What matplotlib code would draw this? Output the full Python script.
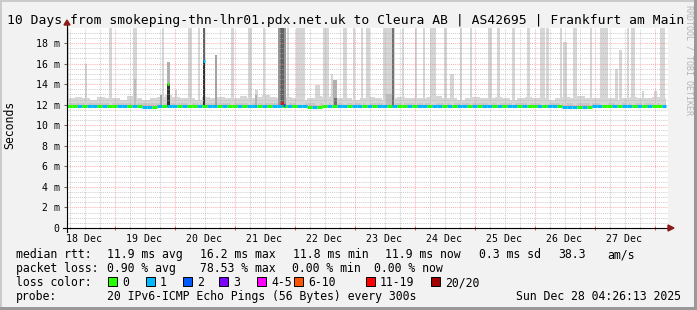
import matplotlib
matplotlib.use("Agg")
import matplotlib.pyplot as plt
import matplotlib.dates as mdates
from matplotlib.patches import Rectangle, Polygon
from datetime import datetime, timedelta
import numpy as np

plt.rcParams['font.family'] = ['DejaVu Sans Mono']

# data, rtt in ms
start = datetime(2025, 12, 18, 5, 0)
last_update = datetime(2025, 12, 28, 4, 26, 13)

# top of the normal smoke band, one value per 3 h
base_top = [12.6, 12.7, 12.6, 12.5, 12.7, 12.6, 12.6, 12.5, 12.8, 12.6,
            12.5, 12.6, 12.7, 12.9, 12.7, 12.6, 12.6, 12.5, 12.7, 12.6,
            12.7, 12.6, 12.6, 12.8, 12.6, 12.7, 12.9, 12.7, 12.6, 12.7,
            12.6, 12.5, 12.6, 12.8, 12.7, 12.8, 12.6, 12.6, 12.5, 12.6,
            12.7, 12.6, 12.5, 12.6, 12.7, 12.6, 12.6, 12.6, 12.7, 12.8,
            12.6, 12.6, 12.5, 12.6, 12.7, 12.6, 12.6, 12.7, 12.6, 12.5,
            12.6, 12.7, 12.6, 12.6, 12.5, 12.6, 12.7, 12.6, 12.8, 12.6,
            12.6, 12.7, 12.6, 12.5, 12.6, 12.7, 12.6, 12.6, 12.7, 12.6]
base_low = 11.78
inner_band = (11.8, 12.2)

# median rtt, one value per 6 h
median_rtt = [11.9, 11.9, 11.85, 11.9, 11.85, 11.8, 11.9, 11.9, 11.9, 11.85,
              11.9, 11.9, 11.9, 11.85, 11.9, 11.9, 11.8, 11.85, 11.9, 11.9,
              11.9, 11.85, 11.9, 11.9, 11.85, 11.9, 11.9, 11.9, 11.85, 11.9,
              11.9, 11.9, 11.85, 11.8, 11.8, 11.9, 11.9, 11.9, 11.85, 11.9]

# lost pings (of 20) per 2 h
median_loss = ("00101101001101011010"
               "11010010110100101101"
               "01101011010010110110"
               "10110100101101101011"
               "01011010110100101101"
               "11010110010110101001")

# outliers: time, minutes covered, highest rtt, pings that reached it
spike_time = ["12-18 05:24", "12-18 12:36", "12-18 22:12", "12-19 08:12", "12-19 18:36",
              "12-19 19:24", "12-19 21:24", "12-19 21:24", "12-20 00:36", "12-20 06:12",
              "12-20 09:48", "12-20 11:48", "12-20 11:48", "12-20 16:36", "12-20 23:24",
              "12-21 06:12", "12-21 08:36", "12-21 11:48", "12-21 19:00", "12-21 19:00",
              "12-21 21:24", "12-22 02:12", "12-22 09:00", "12-22 12:36", "12-22 15:00",
              "12-22 16:12", "12-22 16:12", "12-22 20:12", "12-22 23:48", "12-23 03:00",
              "12-23 05:24", "12-23 13:48", "12-23 15:24", "12-23 19:24", "12-24 00:36",
              "12-24 03:48", "12-24 07:24", "12-24 12:12", "12-24 15:00", "12-24 18:36",
              "12-24 22:36", "12-25 06:12", "12-25 09:24", "12-25 15:24", "12-25 21:24",
              "12-26 03:00", "12-26 05:24", "12-26 10:36", "12-26 12:12", "12-26 16:12",
              "12-26 22:36", "12-27 03:48", "12-27 08:36", "12-27 10:12", "12-27 13:24",
              "12-27 15:24", "12-27 19:24", "12-28 00:12", "12-28 03:00", "12-19 08:12",
              "12-23 13:48", "12-21 08:36"]
spike_minutes = [48, 72, 72, 96, 72,
                 48, 72, 72, 72, 120,
                 48, 72, 72, 72, 72,
                 120, 72, 48, 192, 120,
                 48, 216, 120, 144, 48,
                 96, 72, 96, 72, 72,
                 96, 288, 36, 72, 72,
                 72, 144, 72, 96, 72,
                 72, 120, 72, 72, 72,
                 120, 72, 72, 120, 96,
                 72, 192, 72, 72, 72,
                 120, 72, 72, 120, 48,
                 144, 48]
spike_top = [24.0, 16.0, 24.0, 24.0, 12.9,
             24.0, 16.1, 14.0, 13.4, 24.0,
             24.0, 24.0, 16.2, 16.8, 24.0,
             24.0, 13.4, 24.0, 24.0, 24.0,
             24.0, 24.0, 13.9, 24.0, 15.0,
             14.4, 12.6, 24.0, 24.0, 24.0,
             24.0, 24.0, 24.0, 24.0, 24.0,
             24.0, 24.0, 24.0, 15.0, 24.0,
             24.0, 24.0, 24.0, 24.0, 24.0,
             24.0, 24.0, 24.0, 18.1, 24.0,
             24.0, 24.0, 15.5, 17.3, 24.0,
             24.0, 13.3, 13.3, 24.0, 14.5,
             13.0, 12.9]
spike_pings = [1, 1, 1, 1, 5,
               1, 4, 14, 1, 1,
               1, 10, 14, 5, 1,
               1, 1, 1, 6, 10,
               1, 1, 1, 1, 1,
               4, 9, 1, 1, 1,
               1, 1, 9, 1, 1,
               1, 1, 1, 1, 1,
               1, 1, 1, 1, 1,
               1, 1, 1, 1, 1,
               1, 1, 1, 1, 1,
               1, 1, 1, 1, 3,
               3, 4]

# medians off the normal line
event_time = ["12-19 21:24", "12-20 11:48", "12-21 19:00", "12-21 19:48"]
event_rtt = [14.0, 16.2, 12.2, 12.0]
event_loss = [0, 1, 15, 2]

day_labels = ["18 Dec", "19 Dec", "20 Dec", "21 Dec", "22 Dec",
              "23 Dec", "24 Dec", "25 Dec", "26 Dec", "27 Dec"]

loss_names = ["0", "1", "2", "3", "4-5", "6-10", "11-19", "20/20"]
loss_limits = [0, 1, 2, 3, 5, 10, 19, 20]
loss_colors = ["#26ff00", "#00b8ff", "#0059ff", "#7e00ff",
               "#ff00ff", "#ff5500", "#ff0000", "#a10000"]

title = "10 Days from smokeping-thn-lhr01.pdx.net.uk to Cleura AB | AS42695 | Frankfurt am Main"
rtt_line = ["median rtt:", "11.9 ms avg", "16.2 ms max", "11.8 ms min",
            "11.9 ms now", "0.3 ms sd", "38.3", "am/s"]
loss_line = ["packet loss:", "0.90 % avg", "78.53 % max", "0.00 % min", "0.00 % now"]
probe_text = "20 IPv6-ICMP Echo Pings (56 Bytes) every 300s"


def when(s):
    return mdates.date2num(datetime.strptime("2025-" + s, "%Y-%m-%d %H:%M"))


def loss_color(n):
    for lim, col in zip(loss_limits, loss_colors):
        if n <= lim:
            return col
    return loss_colors[-1]


def shade(p):
    g = max(0.12, 0.89 - 0.05 * p)
    return (g, g, g)


W, H = 697, 310
fig = plt.figure(figsize=(W / 100, H / 100), dpi=100, facecolor="#f2f2f2")


def px_box(x, y, w, h, col, **kw):
    fig.add_artist(Rectangle((x / W, 1 - (y + h) / H), w / W, h / H,
                             transform=fig.transFigure, facecolor=col, **kw))


# 3d frame
px_box(0, 0, W, 2, "#cbcbcb", linewidth=0)
px_box(0, 0, 2, H, "#cbcbcb", linewidth=0)
px_box(0, H - 3, W, 3, "#999999", linewidth=0)
px_box(W - 3, 0, 3, H, "#999999", linewidth=0)

ax = fig.add_axes([67 / W, 1 - 228 / H, 601 / W, 200 / H])
ax.set_facecolor("white")
x0 = mdates.date2num(start)
x_end = mdates.date2num(last_update)
ax.set_xlim(x0, x0 + 601 / 60)
ax.set_ylim(0, 200 / 10.28)
for s in ax.spines.values():
    s.set_visible(False)

# smoke
edges = x0 + np.arange(len(base_top) + 1) / 8
edges[-1] = min(edges[-1], x_end)
ax.stairs(base_top, edges, baseline=base_low, fill=True, color=shade(1), zorder=0.8)
ax.fill_between([x0, x_end], inner_band[0], inner_band[1], color=shade(2),
                linewidth=0, zorder=0.9)

order = sorted(range(len(spike_time)), key=lambda i: (-spike_top[i], spike_pings[i]))
ax.bar([when(spike_time[i]) for i in order],
       [spike_top[i] - base_low for i in order],
       bottom=base_low,
       width=[spike_minutes[i] / 1440 for i in order],
       color=[shade(spike_pings[i]) for i in order],
       linewidth=0, zorder=1)

# median line coloured by loss
seg_a = x0 + np.arange(len(median_loss)) / 12
seg_b = np.minimum(seg_a + 1 / 12, x_end)
ax.hlines([median_rtt[i // 3] for i in range(len(median_loss))], seg_a, seg_b,
          colors=[loss_color(int(c)) for c in median_loss], linewidth=2.2, zorder=3)
ev_x = np.array([when(t) for t in event_time])
ax.hlines(event_rtt, ev_x - 0.02, ev_x + 0.02,
          colors=[loss_color(n) for n in event_loss], linewidth=2.2, zorder=3.1)

# grid
ax.set_yticks(np.arange(0, 19, 2))
ax.set_yticks(np.arange(0, 19.5, 0.5), minor=True)
ax.set_yticklabels(["0"] + [f"{v} m" for v in range(2, 19, 2)])
ax.xaxis.set_major_locator(mdates.DayLocator())
ax.xaxis.set_minor_locator(mdates.HourLocator(byhour=[0, 6, 12, 18]))
ax.set_axisbelow(False)
ax.grid(which="major", color="#ff8080", alpha=0.6, linestyle=(0, (1, 1)), linewidth=0.75)
ax.grid(which="minor", color="#b0b0b0", alpha=0.6, linestyle=(0, (1, 1)), linewidth=0.75)
ax.tick_params(axis="x", which="both", labelbottom=False, direction="inout")
ax.tick_params(axis="x", which="major", length=3, color="#e06060", width=0.75)
ax.tick_params(axis="x", which="minor", length=2, color="#999999", width=0.75)
ax.tick_params(axis="y", which="major", length=2.5, color="#666666", width=0.75,
               labelsize=7.1, pad=2.8)
ax.tick_params(axis="y", which="minor", length=0)

for i, lbl in enumerate(day_labels):
    xn = mdates.date2num(start.replace(hour=12) + timedelta(days=i))
    ax.text(xn, -13.5 / 200, lbl, transform=ax.get_xaxis_transform(),
            ha="center", va="baseline", fontsize=7.1)

# axes with arrows
ax.plot([-4 / 601, 1], [0, 0], transform=ax.transAxes, color="black",
        linewidth=0.8, clip_on=False, zorder=4)
ax.plot([0, 0], [-4 / 200, 1 + 3 / 200], transform=ax.transAxes, color="black",
        linewidth=0.8, clip_on=False, zorder=4)
ax.add_patch(Polygon([(1, 3 / 200), (1 + 6 / 601, 0), (1, -3 / 200)],
                     transform=ax.transAxes, color="#8e1b1b", clip_on=False, zorder=4))
ax.add_patch(Polygon([(-3 / 601, 1 + 3 / 200), (0, 1 + 8 / 200), (3 / 601, 1 + 3 / 200)],
                     transform=ax.transAxes, color="#8e1b1b", clip_on=False, zorder=4))

# texts
fig.text(345.5 / W, 1 - 24 / H, title, ha="center", va="baseline", fontsize=9.4)
fig.text(10 / W, 1 - 125 / H, "Seconds", rotation=90, ha="center", va="center", fontsize=8.3)
fig.text(689.5 / W, 1 - 60 / H, "RRDTOOL / TOBI OETIKER", rotation=270,
         ha="center", va="center", fontsize=6, color="#b5b5b5")

row_y = [258, 272, 286, 300]
for x, s in zip([16, 107, 200, 293, 385, 479, 558, 607], rtt_line):
    fig.text(x / W, 1 - row_y[0] / H, s, va="baseline", fontsize=8.3)
for x, s in zip([16, 107, 200, 292, 374], loss_line):
    fig.text(x / W, 1 - row_y[1] / H, s, va="baseline", fontsize=8.3)
fig.text(16 / W, 1 - row_y[2] / H, "loss color:", va="baseline", fontsize=8.3)
for x, name, col in zip([108, 146, 183, 219, 257, 294, 366, 431], loss_names, loss_colors):
    px_box(x, 277, 8.5, 9, col, edgecolor="black", linewidth=0.7)
    fig.text((x + 14) / W, 1 - row_y[2] / H, name, va="baseline", fontsize=8.3)
fig.text(16 / W, 1 - row_y[3] / H, "probe:", va="baseline", fontsize=8.3)
fig.text(107 / W, 1 - row_y[3] / H, probe_text, va="baseline", fontsize=8.3)
fig.text(681 / W, 1 - row_y[3] / H, last_update.strftime("%a %b %d %H:%M:%S %Y"),
         ha="right", va="baseline", fontsize=8.3)

fig.savefig("out.png", dpi=100, facecolor=fig.get_facecolor())
